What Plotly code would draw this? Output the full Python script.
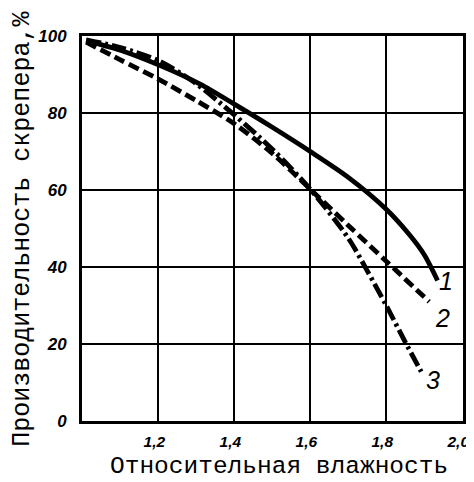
import plotly.graph_objects as go

# Data
x1 = [1.01, 1.10, 1.205, 1.31, 1.40, 1.50, 1.60, 1.70, 1.80, 1.86, 1.90, 1.935]
y1 = [98.8, 96.3, 92.3, 87.5, 82.3, 76.3, 70.0, 63.3, 55.0, 48.5, 43.2, 36.5]

x2 = [1.01, 1.10, 1.20, 1.30, 1.40, 1.50, 1.60, 1.70, 1.80, 1.913]
y2 = [98.4, 93.8, 88.8, 83.2, 77.2, 69.5, 60.2, 50.8, 41.5, 31.0]

x3 = [1.01, 1.10, 1.20, 1.29, 1.40, 1.50, 1.60, 1.70, 1.75, 1.80, 1.85, 1.892]
y3 = [99.0, 97.0, 93.6, 88.3, 79.5, 70.6, 60.2, 47.5, 39.0, 30.0, 20.5, 12.8]

curve_labels = ["1", "2", "3"]
label_x = [1.957, 1.948, 1.922]
label_y = [36.3, 26.7, 10.7]

xticks = [1.2, 1.4, 1.6, 1.8, 2.0]
xtick_text = ["1,2", "1,4", "1,6", "1,8", "2,0"]
yticks = [0, 20, 40, 60, 80, 100]
ytick_text = ["0", "20", "40", "60", "80", "100"]

x_title = "Относительная влажность"
y_title = "Производительность скрепера,%"

fig = go.Figure()
fig.add_trace(go.Scatter(x=x1, y=y1, mode="lines",
                         line=dict(color="black", width=4.8, shape="spline", smoothing=0.8,
                                   dash="solid")))
fig.add_trace(go.Scatter(x=x2, y=y2, mode="lines",
                         line=dict(color="black", width=4.8, shape="spline", smoothing=0.8,
                                   dash="11px,5px")))
fig.add_trace(go.Scatter(x=x3, y=y3, mode="lines",
                         line=dict(color="black", width=4.8, shape="spline", smoothing=0.8,
                                   dash="15px,4px,3px,4px")))

label_font = dict(family="Liberation Sans", size=25, color="black", style="italic")
for t, lx, ly in zip(curve_labels, label_x, label_y):
    fig.add_annotation(x=lx, y=ly, text=t, showarrow=False, font=label_font)

fig.add_annotation(xref="paper", yref="paper", x=0.517, y=-0.1584, text=x_title,
                   showarrow=False, xanchor="center", yanchor="bottom",
                   font=dict(family="Liberation Mono", size=24.5, color="black"))
fig.add_annotation(xref="paper", yref="paper", x=-0.157, y=0.5, text=y_title,
                   showarrow=False, textangle=-90, xanchor="center", yanchor="middle",
                   font=dict(family="Liberation Mono", size=25, color="black"))

xtickfont = dict(family="Liberation Sans", size=15.5, color="black", style="italic", weight="bold")
ytickfont = dict(family="Liberation Sans", size=17, color="black", style="italic", weight="bold")

fig.update_xaxes(range=[0.999, 2.002], tickvals=xticks, ticktext=xtick_text,
                 showgrid=True, gridcolor="black", gridwidth=2,
                 showline=True, linecolor="black", linewidth=3, mirror=True,
                 zeroline=False, ticks="", tickfont=xtickfont, ticklabelstandoff=4,
                 ticklabelshift=-4, ticklabeloverflow="allow")
fig.update_yaxes(range=[0, 100], tickvals=yticks, ticktext=ytick_text,
                 showgrid=True, gridcolor="black", gridwidth=2,
                 showline=True, linecolor="black", linewidth=3, mirror=True,
                 zeroline=False, ticks="", tickfont=ytickfont, ticklabelstandoff=9)

# the page adds an 8px body margin, so the figure is sized/positioned to compensate
fig.update_layout(width=466, height=474, showlegend=False,
                  paper_bgcolor="white", plot_bgcolor="white",
                  margin=dict(l=74, r=11, t=28, b=61, autoexpand=False))

fig.write_html("out.html")
